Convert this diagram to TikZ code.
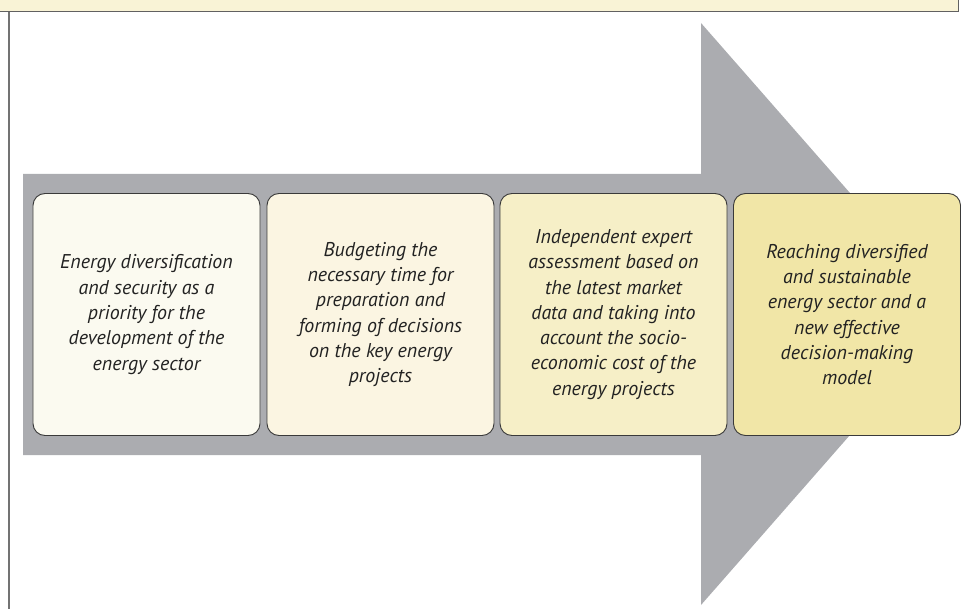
\documentclass[tikz,border=0pt]{standalone}
\usepackage{fontspec}
\setmainfont{PT Sans}
\begin{document}
\begin{tikzpicture}[x=1bp,y=-1bp,
  stagebox/.style={draw=boxline, line width=0.9bp, rounded corners=12bp,
    minimum width=227bp, minimum height=242bp, inner sep=0pt,
    align=center, text=textcol,
    font=\fontsize{20}{25.4}\selectfont\itshape}]
\definecolor{arrowgrey}{HTML}{ABACB0}
\definecolor{bandfill}{HTML}{F9F3D6}
\definecolor{boxline}{HTML}{3A3A3A}
\definecolor{textcol}{HTML}{222222}
\definecolor{cA}{HTML}{FBFAF0}
\definecolor{cB}{HTML}{FBF5E2}
\definecolor{cC}{HTML}{F6EFC7}
\definecolor{cD}{HTML}{F1E6A7}
\useasboundingbox (0,0) rectangle (967,609);
% top band
\fill[bandfill] (0,0) rectangle (958,12);
\draw[boxline!80, line width=1bp] (0,12) -- (958,12) -- (958,0);
% left rule
\draw[black!55, line width=1.3bp] (9,12) -- (9,609);
% big arrow
\fill[arrowgrey] (23,174) -- (701,174) -- (701,23) -- (956,314) -- (701,605) -- (701,455) -- (23,455) -- cycle;
% boxes
\node[stagebox, fill=cA] (b1) at (146.5,314.5) {Energy diversification\\and security as a\\priority for the\\development of the\\energy sector};
\node[stagebox, fill=cB] (b2) at (380.5,314.5) {Budgeting the\\necessary time for\\preparation and\\forming of decisions\\on the key energy\\projects};
\node[stagebox, fill=cC] (b3) at (613.5,314.5) {Independent expert\\assessment based on\\the latest market\\data and taking into\\account the socio-\\economic cost of the\\energy projects};
\node[stagebox, fill=cD] (b4) at (847,314.5) {Reaching diversified\\and sustainable\\energy sector and a\\new effective\\decision-making\\model};
\end{tikzpicture}
\end{document}
